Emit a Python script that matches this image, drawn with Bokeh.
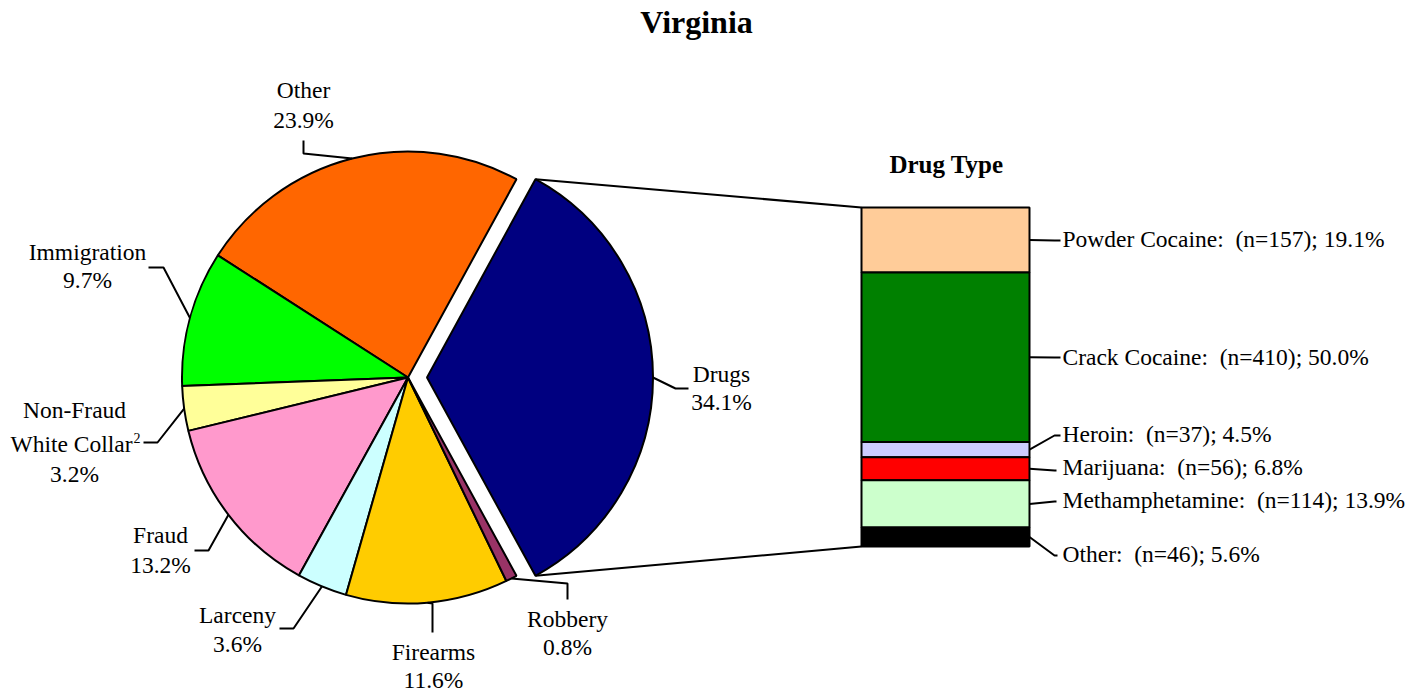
import math
from bokeh.plotting import figure
from bokeh.models import Range1d
from bokeh.embed import file_html
from bokeh.resources import INLINE
from bokeh.core.properties import value

# ---------------- data ----------------
offense = ["Drugs", "Other", "Immigration", "Non-Fraud White Collar", "Fraud",
           "Larceny", "Firearms", "Robbery"]
offense_pct = [34.1, 23.9, 9.7, 3.2, 13.2, 3.6, 11.6, 0.8]
pie_colors = ["#000080", "#FF6600", "#00FF00", "#FFFF99", "#FF99CC",
              "#CCFFFF", "#FFCC00", "#993366"]

drug_types = ["Powder Cocaine", "Crack Cocaine", "Heroin", "Marijuana",
              "Methamphetamine", "Other"]
drug_n = [157, 410, 37, 56, 114, 46]
drug_pct = [19.1, 50.0, 4.5, 6.8, 13.9, 5.6]
drug_colors = ["#FFCC99", "#008000", "#CCCCFF", "#FF0000", "#CCFFCC", "#000000"]

title = "Virginia"
bar_title = "Drug Type"

# ---------------- layout helpers (page pixels -> data) ----------------
W, H = 1425, 693
def X(px):
    return px
def Y(py):
    return H - py
def TY(py, fs):
    # baseline correction for text rendering
    return H - (py - 0.36 * fs)

FONT = value("Liberation Serif")
FSN = 23.5
FS = f"{FSN}px"

p = figure(width=W, height=H, output_backend="svg", toolbar_location=None,
           x_range=Range1d(0, W), y_range=Range1d(0, H), min_border=0)
p.axis.visible = False
p.grid.visible = False
p.outline_line_color = None
p.background_fill_color = "white"

# ---------------- pie ----------------
cx, cy, R = X(407.5), Y(377), 226
explode = 19
total = sum(offense_pct)
spans = [v / total * 2 * math.pi for v in offense_pct]
starts, ends = [], []
a = -spans[0] / 2
for s in spans:
    starts.append(a)
    ends.append(a + s)
    a += s
xs = [cx + (explode if i == 0 else 0) for i in range(len(offense))]
ys = [cy] * len(offense)

# connector lines from drug wedge to bar
bar_left, bar_right = X(861), X(1029)
bar_top, bar_bottom = Y(207), Y(546)
dtop = (xs[0] + R * math.cos(ends[0]), cy + R * math.sin(ends[0]))
dbot = (xs[0] + R * math.cos(starts[0]), cy + R * math.sin(starts[0]))
p.line([dtop[0], bar_left], [dtop[1], bar_top], line_color="black", line_width=2)
p.line([dbot[0], bar_left], [dbot[1], bar_bottom], line_color="black", line_width=2)

p.wedge(x=xs, y=ys, radius=R, start_angle=starts, end_angle=ends,
        fill_color=pie_colors, line_color="black", line_width=2)

# leader lines (elbow, end) in page px
leaders = [
    ((675, 388), (688, 388)),
    ((303, 153), (303, 140)),
    ((163, 267), (148, 267)),
    ((157, 442), (143, 442)),
    ((208, 550), (194, 550)),
    ((293, 628), (279, 628)),
    ((432, 603), (432, 632)),
    ((567, 583), (567, 599)),
]
for i, (elb, end) in enumerate(leaders):
    mid = (starts[i] + ends[i]) / 2
    ax = xs[i] + R * math.cos(mid)
    ay = cy + R * math.sin(mid)
    p.line([ax, X(elb[0]), X(end[0])], [ay, Y(elb[1]), Y(end[1])],
           line_color="black", line_width=2)

# pie labels
label_pos = [(721, [382, 410]), (303, [98, 128]), (87, [260, 288]),
             (74, [418, 452, 482]), (160, [543, 573]), (237, [623, 652]),
             (433, [660, 688]), (567, [627, 655])]
for i, name in enumerate(offense):
    lx, bls = label_pos[i]
    pc = f"{offense_pct[i]:.1f}%"
    if name == "Non-Fraud White Collar":
        p.text(x=[X(lx)], y=[TY(bls[0], FSN)], text=["Non-Fraud"], text_font=FONT,
               text_font_size=FS, text_align="center", text_baseline="alphabetic")
        p.text(x=[X(132)], y=[TY(bls[1], FSN)], text=["White Collar"], text_font=FONT,
               text_font_size=FS, text_align="right", text_baseline="alphabetic")
        p.text(x=[X(133)], y=[TY(bls[1] - 9, 14)], text=["2"], text_font=FONT,
               text_font_size="14px", text_align="left", text_baseline="alphabetic")
        p.text(x=[X(lx)], y=[TY(bls[2], FSN)], text=[pc], text_font=FONT,
               text_font_size=FS, text_align="center", text_baseline="alphabetic")
    else:
        p.text(x=[X(lx)] * 2, y=[TY(bls[0], FSN), TY(bls[1], FSN)], text=[name, pc],
               text_font=FONT, text_font_size=FS, text_align="center",
               text_baseline="alphabetic")

# ---------------- stacked bar ----------------
ntot = sum(drug_n)
scale = (bar_top - bar_bottom) / ntot
tops, bots = [], []
t = bar_top
for n in drug_n:
    tops.append(t)
    bots.append(t - n * scale)
    t -= n * scale
p.quad(left=[bar_left] * len(drug_n), right=[bar_right] * len(drug_n),
       top=tops, bottom=bots, fill_color=drug_colors, line_color="black",
       line_width=2)

line_y = [240, 357, 435, 470, 501, 555]
end_x = [1060, 1060, 1060, 1056, 1056, 1057]
text_base = [247, 365, 442, 475, 508, 562]
for i, name in enumerate(drug_types):
    mid = (tops[i] + bots[i]) / 2
    p.line([bar_right, X(1054), X(end_x[i])], [mid, Y(line_y[i]), Y(line_y[i])],
           line_color="black", line_width=2)
    p.text(x=[X(1062)], y=[TY(text_base[i], FSN)],
           text=[f"{name}: \u00a0(n={drug_n[i]}); {drug_pct[i]:.1f}%"],
           text_font=FONT, text_font_size=FS, text_align="left",
           text_baseline="alphabetic")

# ---------------- titles ----------------
p.text(x=[X(696)], y=[TY(33, 32)], text=[title], text_font=FONT, text_font_size="32px",
       text_font_style="bold", text_align="center", text_baseline="alphabetic")
p.text(x=[X(946)], y=[TY(173, 25)], text=[bar_title], text_font=FONT,
       text_font_size="25px", text_font_style="bold", text_align="center",
       text_baseline="alphabetic")

open("out.html", "w").write(file_html(p, INLINE))
